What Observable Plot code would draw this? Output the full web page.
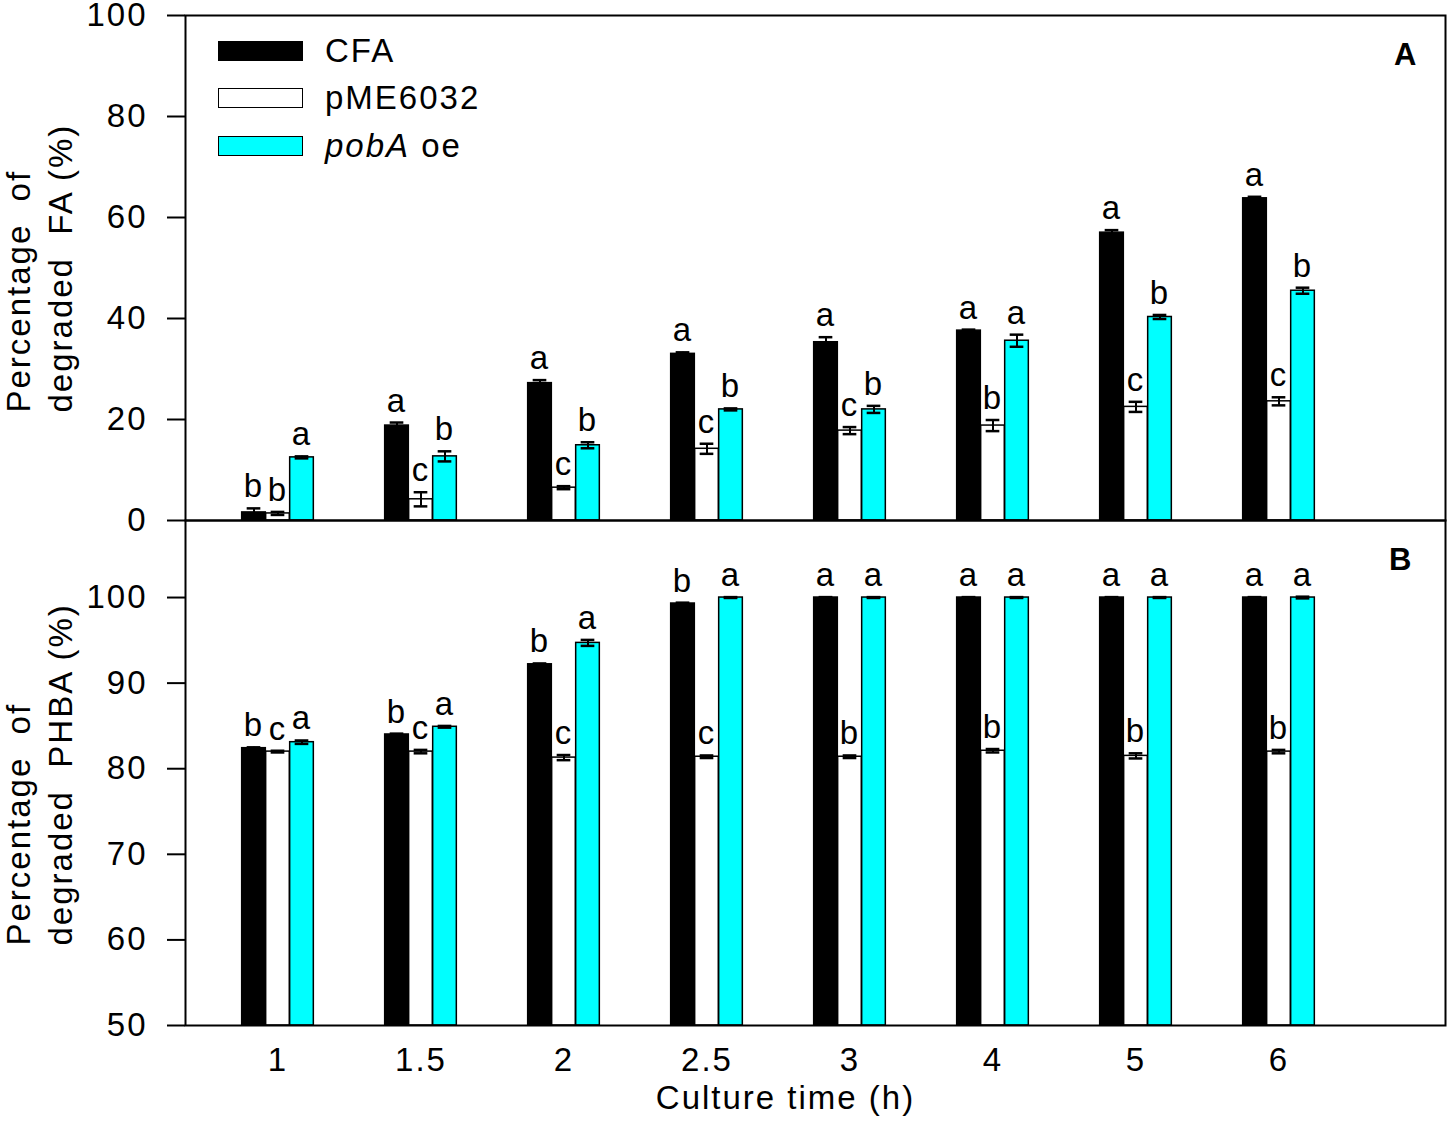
<!DOCTYPE html>
<html>
<head>
<meta charset="utf-8">
<script src="https://cdn.jsdelivr.net/npm/d3@7"></script>
<script src="https://cdn.jsdelivr.net/npm/@observablehq/plot@0.6"></script>
<style>
  body { margin: 0; background: #fff; }
  #wrap { position: relative; width: 1450px; height: 1122px; font-family: "Liberation Sans", Arial, sans-serif; }
  #wrap svg { overflow: visible; display: block; }
  .legend { position: absolute; left: 218px; top: 0; font-size: 33px; letter-spacing: 2px; color: #000; }
  .row { position: absolute; left: 0; height: 22px; display: flex; align-items: center; white-space: nowrap; }
  .sw { width: 85px; height: 20px; box-sizing: border-box; border: 1.5px solid #000; margin-right: 22px; }
</style>
</head>
<body>
<div id="wrap"></div>
<script>
// ---- data ----
const times = ["1", "1.5", "2", "2.5", "3", "4", "5", "6"];
const seriesNames = ["CFA", "pME6032", "pobA oe"];

// Panel A: percentage of degraded FA (%)
const faCFA      = [1.6, 18.8, 27.2, 33.0, 35.3, 37.6, 57.0, 63.8];
const faCFAErr   = [0.8, 0.6, 0.6, 0.3, 1.0, 0.2, 0.5, 0.3];
const faPME      = [1.4, 4.2, 6.5, 14.2, 17.8, 18.8, 22.5, 23.6];
const faPMEErr   = [0.3, 1.4, 0.3, 1.0, 0.7, 1.1, 1.0, 0.8];
const faPOB      = [12.5, 12.7, 14.9, 22.0, 22.0, 35.6, 40.3, 45.5];
const faPOBErr   = [0.2, 1.0, 0.6, 0.2, 0.7, 1.2, 0.4, 0.6];
const faCFALet   = ["b", "a", "a", "a", "a", "a", "a", "a"];
const faPMELet   = ["b", "c", "c", "c", "c", "b", "c", "c"];
const faPOBLet   = ["a", "b", "b", "b", "b", "a", "b", "b"];

// Panel B: percentage of degraded PHBA (%)
const phCFA      = [82.4, 84.0, 92.2, 99.3, 100, 100, 100, 100];
const phCFAErr   = [0.1, 0.1, 0.1, 0.1, 0.05, 0.05, 0.05, 0.05];
const phPME      = [82.0, 82.0, 81.3, 81.4, 81.4, 82.1, 81.5, 82.0];
const phPMEErr   = [0.1, 0.2, 0.3, 0.15, 0.15, 0.2, 0.3, 0.2];
const phPOB      = [83.1, 84.9, 94.7, 100, 100, 100, 100, 100];
const phPOBErr   = [0.2, 0.1, 0.35, 0.05, 0.05, 0.05, 0.05, 0.1];
const phCFALet   = ["b", "b", "b", "b", "a", "a", "a", "a"];
const phPMELet   = ["c", "c", "c", "c", "b", "b", "b", "b"];
const phPOBLet   = ["a", "a", "a", "a", "a", "a", "a", "a"];

const ticksA = [0, 20, 40, 60, 80, 100];
const ticksB = [50, 60, 70, 80, 90, 100];

// ---- build tables ----
function table(vals, errs, lets) {
  return seriesNames.map((s, k) => times.map((t, i) => ({
    time: t, series: s, value: vals[k][i], err: errs[k][i], letter: lets[k][i]
  })));
}
const dataA = table([faCFA, faPME, faPOB], [faCFAErr, faPMEErr, faPOBErr], [faCFALet, faPMELet, faPOBLet]);
const dataB = table([phCFA, phPME, phPOB], [phCFAErr, phPMEErr, phPOBErr], [phCFALet, phPMELet, phPOBLet]);

// ---- layout / style ----
const W = 1450, ML = 185, MR = 5;
const padOuter = 0.395, alignX = 0.18;
const step = (W - ML - MR) / (times.length + 2 * padOuter);
const barW = 24, off = 24, capW = 14;
const barInset = (step - barW) / 2;
const capInset = (step - capW) / 2;
const styles = [
  { fill: "#000", stroke: "#000", dx: -off },
  { fill: "#fff", stroke: "#000", dx: 0 },
  { fill: "#00ffff", stroke: "#000", dx: off }
];
const FONT = "'Liberation Sans', Arial, sans-serif";

function marks(data, base) {
  const out = [];
  data.forEach((d, k) => {
    const st = styles[k];
    out.push(Plot.barY(d, {
      x: "time", y1: base, y2: "value", fill: st.fill, stroke: st.stroke, strokeWidth: 1.5,
      insetLeft: barInset, insetRight: barInset, dx: st.dx
    }));
  });
  data.forEach((d, k) => {
    const st = styles[k];
    out.push(Plot.ruleX(d, { x: "time", y1: v => v.value - v.err, y2: v => v.value + v.err, dx: st.dx, strokeWidth: 2 }));
    out.push(Plot.tickY(d, { x: "time", y: v => v.value + v.err, dx: st.dx, insetLeft: capInset, insetRight: capInset, strokeWidth: 2.5 }));
    out.push(Plot.tickY(d, { x: "time", y: v => v.value - v.err, dx: st.dx, insetLeft: capInset, insetRight: capInset, strokeWidth: 2.5 }));
    out.push(Plot.text(d, { x: "time", y: v => v.value + v.err, text: "letter", dx: st.dx, dy: -11, lineAnchor: "bottom", fontSize: 33 }));
  });
  return out;
}

const xScale = { type: "band", domain: times, paddingInner: 0, paddingOuter: padOuter, align: alignX };
const svgStyle = { fontFamily: FONT, fontSize: "33px", letterSpacing: "2px", overflow: "visible", background: "transparent" };

const plotA = Plot.plot({
  width: W, height: 520, marginLeft: ML, marginRight: MR, marginTop: 15, marginBottom: 0,
  style: svgStyle,
  x: { ...xScale, axis: null },
  y: { domain: [0, 100] },
  marks: [
    ...marks(dataA, 0),
    Plot.frame({ strokeWidth: 2 }),
    Plot.axisY({ ticks: ticksA, tickSize: 18, tickPadding: 20, strokeWidth: 2, fontSize: 33, label: null }),
    Plot.text(["A"], { frameAnchor: "top-right", dx: -27, dy: 27, fontWeight: "bold", fontSize: 31 }),
    Plot.text(["Percentage  of\ndegraded  FA (%)"], {
      frameAnchor: "left", rotate: -90, textAnchor: "start", lineAnchor: "middle",
      lineHeight: 1.27, dx: -147.5, dy: 144.5, fontSize: 33
    })
  ]
});

const plotB = Plot.plot({
  width: W, height: 602, marginLeft: ML, marginRight: MR, marginTop: 0, marginBottom: 97,
  style: svgStyle,
  x: { ...xScale },
  y: { domain: [50, 109] },
  marks: [
    ...marks(dataB, 50),
    Plot.frame({ strokeWidth: 2 }),
    Plot.axisY({ ticks: ticksB, tickSize: 18, tickPadding: 20, strokeWidth: 2, fontSize: 33, label: null }),
    Plot.axisX({ tickSize: 0, tickPadding: 22, fontSize: 33, label: null }),
    Plot.text(["B"], { frameAnchor: "top-right", dx: -32, dy: 27, fontWeight: "bold", fontSize: 31 }),
    Plot.text(["Percentage  of\ndegraded  PHBA (%)"], {
      frameAnchor: "left", rotate: -90, textAnchor: "start", lineAnchor: "middle",
      lineHeight: 1.27, dx: -147.5, dy: 172.5, fontSize: 33
    }),
    Plot.text(["Culture time (h)"], { frameAnchor: "bottom", lineAnchor: "top", textAnchor: "middle", dx: -30, dy: 60, fontSize: 33 })
  ]
});

const wrap = document.getElementById("wrap");
wrap.appendChild(plotA);
wrap.appendChild(plotB);

// legend
const legend = document.createElement("div");
legend.className = "legend";
const legendItems = [
  { html: "CFA", bg: "#000", top: 40 },
  { html: "pME6032", bg: "#fff", top: 87 },
  { html: "<i>pobA</i> oe", bg: "#00ffff", top: 135 }
];
legendItems.forEach(it => {
  const row = document.createElement("div");
  row.className = "row";
  row.style.top = it.top + "px";
  row.innerHTML = `<div class="sw" style="background:${it.bg}"></div><span>${it.html}</span>`;
  legend.appendChild(row);
});
wrap.appendChild(legend);
</script>
</body>
</html>
